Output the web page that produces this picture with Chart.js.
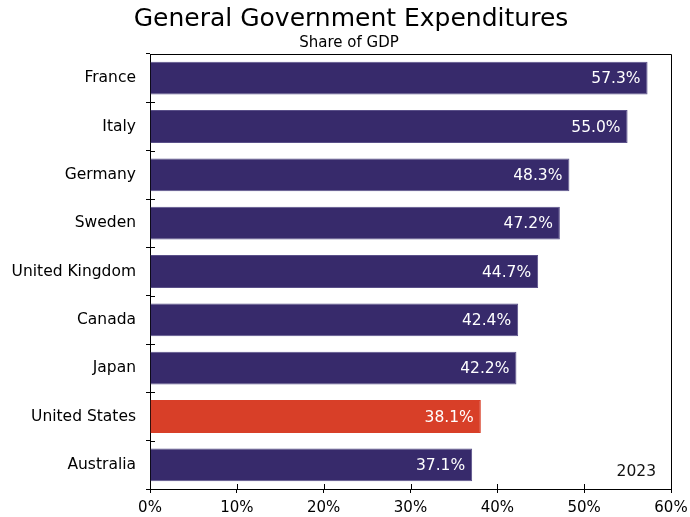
<!DOCTYPE html>
<html>
<head>
<meta charset="utf-8">
<script src="https://cdn.jsdelivr.net/npm/chart.js@4/dist/chart.umd.min.js"></script>
<style>
  body { margin: 0; background: #fff; }
  #wrap { width: 690px; height: 517px; }
</style>
</head>
<body>
<div id="wrap"><canvas id="spendChart" width="690" height="517"></canvas></div>
<script>
var countries = ["France", "Italy", "Germany", "Sweden", "United Kingdom", "Canada", "Japan", "United States", "Australia"];
var spending = [57.3, 55.0, 48.3, 47.2, 44.7, 42.4, 42.2, 38.1, 37.1];
var xTicks = [0, 10, 20, 30, 40, 50, 60];
var titleText = "General Government Expenditures";
var subtitleText = "Share of GDP";
var yearNote = "2023";

var font = "'DejaVu Sans', Verdana, sans-serif";
var purple = "#372a6b";
var red = "#d83f28";

// US bar gets the highlight colour
var barColors = countries.map(function(c) {
  return c == "United States" ? red : purple;
});
var edgeColors = countries.map(function(c) {
  return c == "United States" ? red : "#5a5089";
});

//TITLES, FRAME, INNER TICKS, YEAR NOTE//
var framePlugin = {
  id: "frame",
  afterDraw: function(chart) {
    var ctx = chart.ctx;
    var a = chart.chartArea;
    var x = chart.scales.x;
    var y = chart.scales.y;
    ctx.save();

    // titles sit a little right of the canvas middle
    ctx.fillStyle = "#000";
    ctx.textAlign = "center";
    ctx.textBaseline = "middle";
    ctx.font = "25px " + font;
    ctx.fillText(titleText, 351, 19);
    ctx.font = "15px " + font;
    ctx.fillText(subtitleText, 349, 43);

    ctx.strokeStyle = "#000";
    ctx.lineWidth = 1;
    ctx.beginPath();
    ctx.moveTo(Math.round(a.left) + 0.5, Math.round(a.top) + 0.5);
    ctx.lineTo(Math.round(a.right) + 0.5, Math.round(a.top) + 0.5);
    ctx.lineTo(Math.round(a.right) + 0.5, Math.round(a.bottom) + 0.5);
    // ticks poke into the plot a few px
    xTicks.forEach(function(v) {
      var px = Math.round(x.getPixelForValue(v)) + 0.5;
      ctx.moveTo(px, a.bottom);
      ctx.lineTo(px, a.bottom - 5);
    });
    var band = (a.bottom - a.top) / countries.length;
    for (var i = 0; i <= countries.length; i++) {
      var py = Math.round(y.getPixelForValue(i) - band / 2) + 0.5;
      ctx.moveTo(a.left, py);
      ctx.lineTo(a.left + 5, py);
    }
    ctx.stroke();

    // values at the end of each bar
    var meta = chart.getDatasetMeta(0);
    ctx.fillStyle = "#fff";
    ctx.font = "15.5px " + font;
    ctx.textAlign = "right";
    meta.data.forEach(function(bar, i) {
      ctx.fillText(spending[i].toFixed(1) + "%", bar.x - 7, bar.y + 1);
    });

    ctx.fillStyle = "#111";
    ctx.fillText(yearNote, a.right - 15, a.bottom - 17);
    ctx.restore();
  }
};

var ctx = document.getElementById("spendChart");
var chart = new Chart(ctx, {
  type: "bar",
  data: {
    labels: countries,
    datasets: [{
      data: spending,
      backgroundColor: barColors,
      borderColor: edgeColors,
      borderWidth: 1,
      barPercentage: 0.68,
      categoryPercentage: 1
    }]
  },
  options: {
    indexAxis: "y",
    responsive: false,
    animation: false,
    layout: { padding: { left: 6, right: 19, top: 54, bottom: 0 } },
    plugins: {
      legend: { display: false },
      tooltip: { enabled: false },
      title: { display: false }
    },
    scales: {
      x: {
        min: 0,
        max: 60,
        afterBuildTicks: function(scale) {
          scale.ticks = xTicks.map(function(v) { return { value: v }; });
        },
        afterFit: function(scale) {
          scale.height = 28;
          // let layout padding decide the right edge, not the "60%" label
          scale.paddingLeft = 0;
          scale.paddingRight = 0;
        },
        border: { color: "#000", width: 1 },
        grid: { drawOnChartArea: false, color: "#000", tickLength: 4 },
        ticks: {
          color: "#000",
          padding: 6,
          font: { family: font, size: 15 },
          callback: function(v) { return v + "%"; }
        }
      },
      y: {
        afterFit: function(scale) { scale.width = 144; },
        border: { color: "#000", width: 1 },
        grid: { drawOnChartArea: false, color: "#000", tickLength: 4, offset: true },
        ticks: {
          color: "#000",
          padding: 10,
          font: { family: font, size: 15.5 }
        }
      }
    }
  },
  plugins: [framePlugin]
});
</script>
</body>
</html>
